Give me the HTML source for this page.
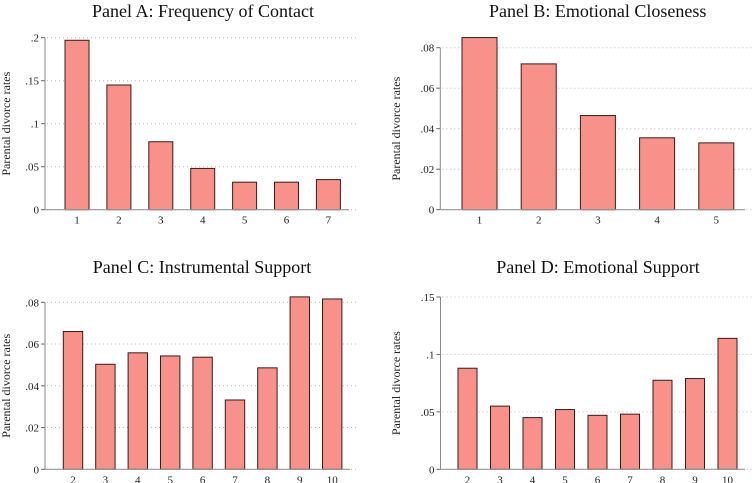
<!DOCTYPE html>
<html><head><meta charset="utf-8">
<style>
html,body{margin:0;padding:0;background:#fff;}
svg{display:block;font-family:"Liberation Serif",serif;}
</style></head>
<body>
<svg id="chart" width="754" height="483" viewBox="0 0 754 483" xmlns="http://www.w3.org/2000/svg"></svg>
<script>
const catsA = ["1","2","3","4","5","6","7"];
const valsA = [0.197,0.145,0.079,0.048,0.032,0.032,0.035];
const ticksA = [0,0.05,0.1,0.15,0.2];
const tickLabelsA = ["0",".05",".1",".15",".2"];

const catsB = ["1","2","3","4","5"];
const valsB = [0.085,0.072,0.0465,0.0355,0.033];
const ticksB = [0,0.02,0.04,0.06,0.08];
const tickLabelsB = ["0",".02",".04",".06",".08"];

const catsC = ["2","3","4","5","6","7","8","9","10"];
const valsC = [0.066,0.0503,0.0558,0.0543,0.0537,0.0332,0.0486,0.0826,0.0816];
const ticksC = [0,0.02,0.04,0.06,0.08];
const tickLabelsC = ["0",".02",".04",".06",".08"];

const catsD = ["2","3","4","5","6","7","8","9","10"];
const valsD = [0.088,0.055,0.045,0.052,0.047,0.048,0.0775,0.079,0.114];
const ticksD = [0,0.05,0.1,0.15];
const tickLabelsD = ["0",".05",".1",".15"];

const svg = document.getElementById('chart');
const NS = "http://www.w3.org/2000/svg";
function mk(tag, attrs, parent){
  const e = document.createElementNS(NS, tag);
  for (const k in attrs) e.setAttribute(k, attrs[k]);
  parent.appendChild(e);
  return e;
}

function panel(id, title, cats, vals, ticks, labels, g){
  const grp = mk('g', {}, svg);
  
  
  const ymax = ticks[ticks.length-1];
  const y = v => g.y0 - (v / ymax) * (g.y0 - g.yTop);
  const x = i => g.c0 + i * g.step;
  const t = mk('text', {x: g.titleX, y: g.titleY, 'text-anchor':'middle', 'font-size':'18', fill:'#111'}, grp);
  t.textContent = title;
  
  
  const yl = mk('text', {x: 0, y: 0, transform:`translate(${g.ylX},${(g.y0+g.yTop)/2}) rotate(-90)`, 'text-anchor':'middle', 'font-size':'12', fill:'#222'}, grp);
  yl.textContent = 'Parental divorce rates';
  
  
  ticks.forEach((tv, i) => {
    const yy = y(tv);
    const gl = mk('line', {x1: g.ax+2, x2: g.xEnd, y1: yy, y2: yy, stroke:'#b8b8b8', 'stroke-width':'1', 'stroke-dasharray':'1 3'}, grp);
    
    
    const tk = mk('line', {x1: g.ax-4, x2: g.ax, y1: yy, y2: yy, stroke:'#666', 'stroke-width':'1'}, grp);
    
    
    const tl = mk('text', {x: g.ax-6, y: yy+4, 'text-anchor':'end', 'font-size':'11', fill:'#222'}, grp);
    tl.textContent = labels[i];
    
    
  });
  vals.forEach((v, i) => {
    const r = mk('rect', {x: x(i) - g.bw/2, y: y(v), width: g.bw, height: g.y0 - y(v), fill:'#f8918a', stroke:'#3a1b1b', 'stroke-width':'1'}, grp);
    
    
    const xl = mk('text', {x: x(i), y: g.y0 + 14, 'text-anchor':'middle', 'font-size':'11', fill:'#222'}, grp);
    xl.textContent = cats[i];
    
    
  });
  const ya = mk('line', {x1: g.ax, x2: g.ax, y1: y(ymax), y2: g.y0, stroke:'#888', 'stroke-width':'1'}, grp);
  
  
  const xa = mk('line', {x1: g.ax, x2: g.xAxisEnd, y1: g.y0, y2: g.y0, stroke:'#999', 'stroke-width':'1.2'}, grp);
  
  
}

panel('panel-a', 'Panel A: Frequency of Contact', catsA, valsA, ticksA, tickLabelsA,
  {ax:45, yTop:37.7, y0:209.7, c0:77, step:41.9, bw:24, xEnd:359, xAxisEnd:349, titleX:203, titleY:17, ylX:10});
panel('panel-b', 'Panel B: Emotional Closeness', catsB, valsB, ticksB, tickLabelsB,
  {ax:440.3, yTop:47.7, y0:209.7, c0:479.5, step:59.2, bw:35, xEnd:754, xAxisEnd:745, titleX:597.7, titleY:17, ylX:400});
panel('panel-c', 'Panel C: Instrumental Support', catsC, valsC, ticksC, tickLabelsC,
  {ax:45, yTop:302.3, y0:469.3, c0:73, step:32.4, bw:19.4, xEnd:359, xAxisEnd:350, titleX:202, titleY:273, ylX:10});
panel('panel-d', 'Panel D: Emotional Support', catsD, valsD, ticksD, tickLabelsD,
  {ax:440.5, yTop:297, y0:469.3, c0:467.5, step:32.5, bw:19, xEnd:754, xAxisEnd:745, titleX:598, titleY:273, ylX:400});
</script>
</body></html>
